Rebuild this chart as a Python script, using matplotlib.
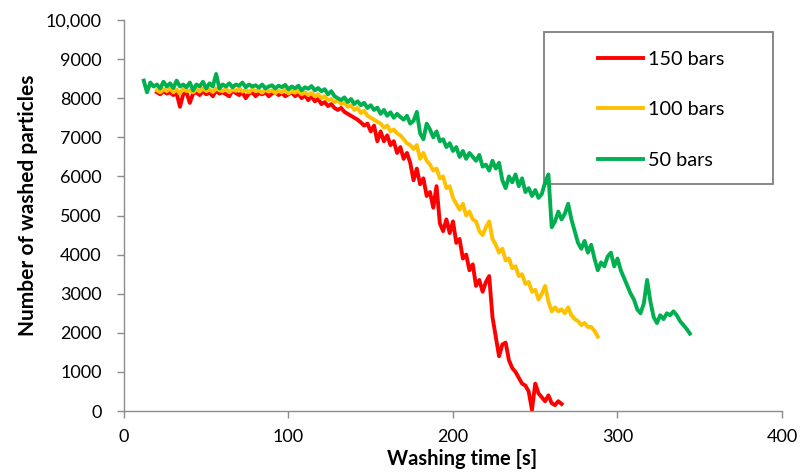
"""Washed particles vs washing time for three wash pressures."""

import numpy as np
import matplotlib
matplotlib.use("Agg")
import matplotlib.pyplot as plt
from matplotlib.patches import Rectangle

plt.rcParams["font.family"] = ["Lato", "DejaVu Sans"]

RED = "#FF0000"
YELLOW = "#FFC000"
GREEN = "#00B050"
AXIS_GRAY = "#8C8C8C"

T_STEP = 2
T0_150 = 20
T0_100 = 20
T0_50 = 12

washed_150 = [
    8150, 8100, 8180, 8120, 8150, 8080, 8130, 7780, 8100, 8150,
    7880, 8120, 8150, 8080, 8180, 8100, 8150, 8050, 8200, 8120,
    8150, 8100, 8050, 8200, 8130, 8080, 8150, 8000, 8120, 8150,
    8050, 8130, 8100, 8150, 8050, 8120, 8150, 8080, 8130, 8050,
    8100, 8150, 8050, 8120, 8000, 8080, 7950, 8050, 7920, 7980,
    7850, 7900, 7800, 7850, 7750, 7700, 7750, 7650, 7600, 7550,
    7500, 7450, 7380, 7300, 7350, 7150, 7300, 6900, 7150, 6900,
    7050, 6800, 6900, 6600, 6750, 6450, 6600, 6350, 5900, 6200,
    5800, 5950, 5500, 5600, 5200, 5750, 4800, 4600, 4900, 4550,
    4850, 4300, 4400, 3900, 4000, 3600, 3750, 3200, 3350, 3050,
    3300, 3450, 2400, 1900, 1400, 1700, 1750, 1300, 1100, 1000,
    850, 700, 650, 500, 30, 700, 450, 350, 250, 400,
    200, 150, 250, 180,
]

washed_100 = [
    8200, 8150, 8230, 8180, 8250, 8150, 8220, 8120, 8250, 8180,
    8200, 8150, 8230, 8170, 8250, 8180, 8220, 8160, 8250, 8200,
    8180, 8240, 8150, 8220, 8190, 8250, 8170, 8210, 8150, 8230,
    8180, 8200, 8140, 8220, 8170, 8200, 8130, 8190, 8150, 8210,
    8120, 8180, 8140, 8190, 8100, 8150, 8080, 8130, 8050, 8100,
    8000, 8050, 7950, 7980, 7900, 7950, 7850, 7880, 7780, 7820,
    7700, 7750, 7620, 7680, 7550, 7500, 7450, 7400, 7350, 7250,
    7300, 7150, 7200, 7100, 7050, 6950, 6850, 6800, 6700, 6800,
    6450, 6600, 6400, 6300, 6150, 6200, 5950, 6000, 5700, 5750,
    5450, 5300, 5150, 5300, 5000, 5100, 4900, 4850, 4600, 4500,
    4700, 4850, 4400, 4250, 4050, 4150, 3850, 3900, 3650, 3700,
    3450, 3500, 3250, 3300, 3050, 3100, 2850, 3000, 3200, 2800,
    2550, 2650, 2550, 2600, 2500, 2650, 2450, 2350, 2300, 2200,
    2250, 2150, 2150, 2050, 1900,
]

washed_50 = [
    8450, 8150, 8400, 8300, 8350, 8250, 8420, 8300, 8380, 8260,
    8450, 8300, 8350, 8280, 8400, 8200, 8350, 8300, 8420, 8250,
    8380, 8300, 8620, 8250, 8350, 8300, 8380, 8280, 8350, 8320,
    8400, 8280, 8350, 8300, 8330, 8270, 8350, 8250, 8300, 8330,
    8250, 8320, 8280, 8340, 8230, 8300, 8250, 8320, 8200, 8280,
    8240, 8310, 8200, 8260, 8180, 8230, 8100, 8180, 8050, 8000,
    7950, 8020, 7900, 7980, 7850, 7920, 7820, 7880, 7750, 7820,
    7700, 7760, 7600, 7700, 7550, 7640, 7500, 7600, 7520, 7450,
    7550, 7350, 7420, 7650, 7100, 6950, 7350, 7200, 7000, 7150,
    6900, 6950, 6750, 6850, 6650, 6750, 6500, 6650, 6450, 6600,
    6500, 6400, 6550, 6250, 6300, 6150, 6400, 6200, 6350, 5900,
    5700, 6000, 5850, 6050, 5750, 5950, 5600, 5700, 5500, 5650,
    5450, 5550, 5850, 6050, 4700, 4850, 5100, 4900, 5050, 5300,
    4900, 4600, 4300, 4150, 4350, 4050, 4250, 3900, 3600, 3800,
    3700, 3950, 4050, 3700, 3900, 3600, 3400, 3200, 3000, 2850,
    2600, 2500, 2750, 3350, 2800, 2400, 2250, 2450, 2350, 2500,
    2450, 2550, 2450, 2300, 2200, 2100, 1980,
]

series = [
    ("150 bars", T0_150, washed_150, RED),
    ("100 bars", T0_100, washed_100, YELLOW),
    ("50 bars", T0_50, washed_50, GREEN),
]

y_ticks = [0, 1000, 2000, 3000, 4000, 5000, 6000, 7000, 8000, 9000, 10000]
y_tick_labels = ["0", "1000", "2000", "3000", "4000", "5000", "6000",
                 "7000", "8000", "9000", "10,000"]
x_ticks = [0, 100, 200, 300, 400]

fig = plt.figure(figsize=(8.12, 4.75), dpi=100)
ax = fig.add_axes([124 / 812, 64 / 475, 658 / 812, 391 / 475])

for label, t0, vals, color in series:
    t = np.arange(len(vals)) * T_STEP + t0
    ax.plot(t, vals, color=color, lw=2.8, label=label, zorder=6,
            solid_joinstyle="round")

ax.set_xlim(0, 400)
ax.set_ylim(0, 10000)
ax.set_xticks(x_ticks)
ax.set_yticks(y_ticks)
ax.set_yticklabels(y_tick_labels)

for side in ("top", "right"):
    ax.spines[side].set_visible(False)
for side in ("left", "bottom"):
    ax.spines[side].set_color(AXIS_GRAY)
    ax.spines[side].set_linewidth(1.0)
ax.tick_params(axis="both", colors=AXIS_GRAY, labelcolor="black",
               labelsize=13, length=5, width=1.0)
ax.tick_params(axis="y", pad=11)
ax.tick_params(axis="x", pad=8)

ax.set_xlabel("Washing time [s]", fontsize=14.5, fontweight="bold")
ax.set_ylabel("Number of washed particles", fontsize=15, fontweight="bold")
ax.xaxis.set_label_coords(0.514, -0.098)
ax.yaxis.set_label_coords(-0.131, 0.527)

# legend frame drawn by hand so the padding matches the original box
frame = Rectangle((544 / 812, 1 - 184 / 475), 229 / 812, 152 / 475,
                  transform=fig.transFigure, facecolor="white",
                  edgecolor="#7F7F7F", linewidth=1.3, zorder=4)
ax.add_patch(frame)
ax.legend(loc="upper left", bbox_to_anchor=(598 / 812, 1 - 51 / 475),
          bbox_transform=fig.transFigure, frameon=False, fontsize=14.3,
          handlelength=2.26, handletextpad=0.25, labelspacing=1.68,
          borderpad=0, borderaxespad=0)

fig.savefig("out.png", dpi=100)
